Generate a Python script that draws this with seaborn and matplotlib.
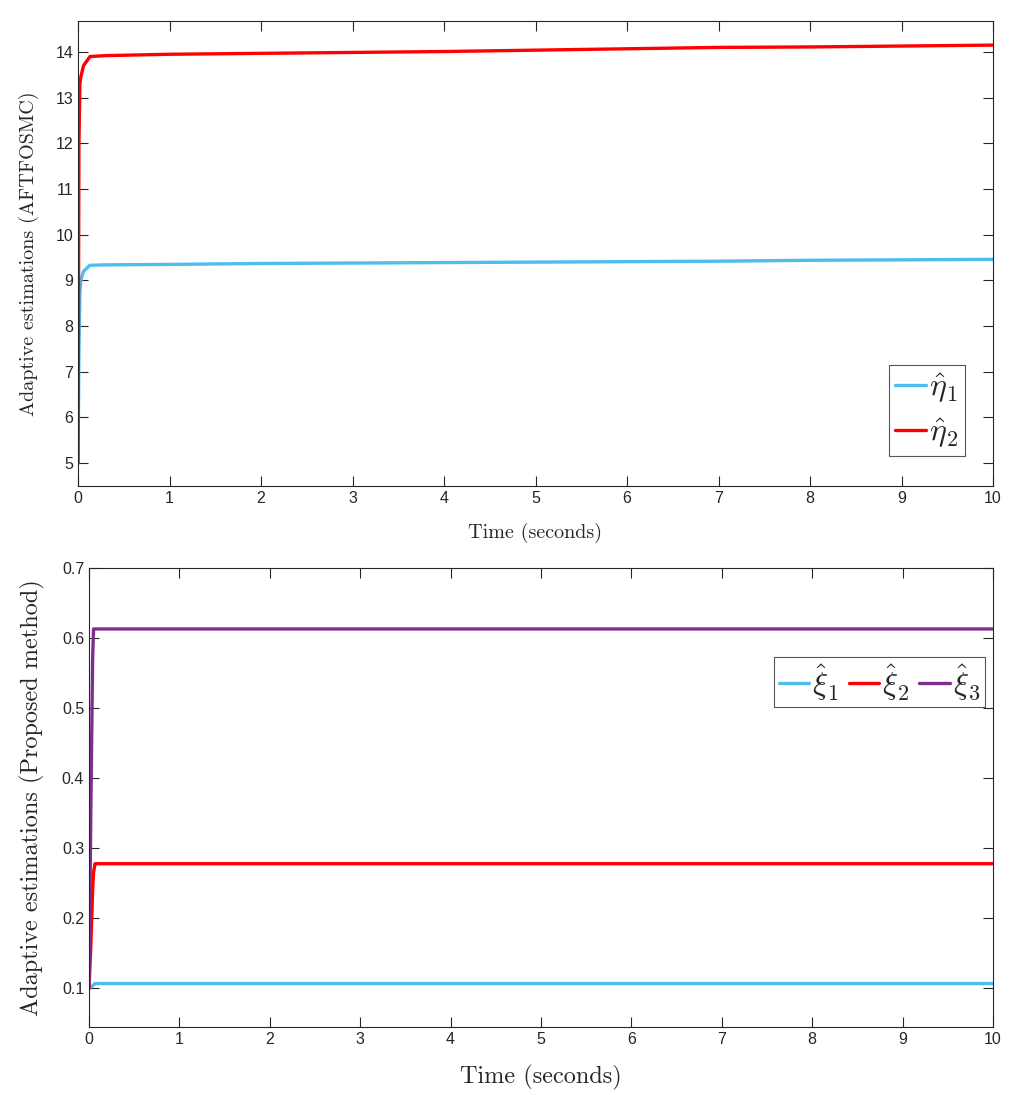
import numpy as np
import pandas as pd
import seaborn as sns
from matplotlib import pyplot as plt

# top panel: AFTFOSMC estimates
t_top = [0, 0.01, 0.02, 0.03, 0.06, 0.13, 0.3, 1, 2, 3, 4, 5, 6, 7, 8, 9, 10]
eta1 = [5, 7.5, 8.7, 9.0, 9.2, 9.33, 9.34, 9.35, 9.37, 9.38, 9.39, 9.40, 9.41, 9.42, 9.44, 9.45, 9.46]
eta2 = [5, 12.0, 13.3, 13.45, 13.7, 13.9, 13.92, 13.95, 13.97, 13.99, 14.01, 14.04, 14.07, 14.10, 14.11, 14.13, 14.15]

# bottom panel: proposed method estimates
t_bot = [0, 0.02, 0.04, 0.05, 0.066, 0.08, 10]
xi1 = [0.1, 0.102, 0.104, 0.105, 0.107, 0.107, 0.107]
xi2 = [0.1, 0.16, 0.24, 0.265, 0.278, 0.278, 0.278]
xi3 = [0.1, 0.35, 0.57, 0.613, 0.613, 0.613, 0.613]

c_blue = "#4DBEEE"
c_red = "#FF0000"
c_purple = "#7E2F8E"

sns.set_style("ticks")
plt.rcParams["font.family"] = ["Liberation Sans", "DejaVu Sans"]
plt.rcParams["mathtext.fontset"] = "cm"
plt.rcParams["xtick.direction"] = "in"
plt.rcParams["ytick.direction"] = "in"
plt.rcParams["xtick.top"] = True
plt.rcParams["ytick.right"] = True

fig = plt.figure(figsize=(10.16, 10.95), dpi=100)
ax1 = fig.add_axes([0.0768, 0.5562, 0.9006, 0.4247])
ax2 = fig.add_axes([0.0876, 0.0621, 0.8898, 0.4192])

lw = 2.4
sns.lineplot(x=t_top, y=eta1, ax=ax1, color=c_blue, lw=lw, label=r"$\hat{\eta}_1$")
sns.lineplot(x=t_top, y=eta2, ax=ax1, color=c_red, lw=lw, label=r"$\hat{\eta}_2$")

sns.lineplot(x=t_bot, y=xi1, ax=ax2, color=c_blue, lw=lw, label=r"$\hat{\xi}_1$")
sns.lineplot(x=t_bot, y=xi2, ax=ax2, color=c_red, lw=lw, label=r"$\hat{\xi}_2$")
sns.lineplot(x=t_bot, y=xi3, ax=ax2, color=c_purple, lw=lw, label=r"$\hat{\xi}_3$")

ax1.set_xlim(0, 10)
ax1.set_ylim(4.5, 14.68)
ax1.set_xticks(range(0, 11))
ax1.set_yticks(range(5, 15))
ax2.set_xlim(0, 10)
ax2.set_ylim(0.045, 0.7)
ax2.set_xticks(range(0, 11))
ax2.set_yticks([0.1, 0.2, 0.3, 0.4, 0.5, 0.6, 0.7])

ax1.set_xlabel("Time (seconds)", family="cmr10", fontsize=14.5, labelpad=12)
ax1.set_ylabel("Adaptive estimations (AFTFOSMC)", family="cmr10", fontsize=14.5, labelpad=12)
ax2.set_xlabel("Time (seconds)", family="cmr10", fontsize=17.5, labelpad=13)
ax2.set_ylabel("Adaptive estimations (Proposed method)", family="cmr10", fontsize=17.5, labelpad=12)

for ax in (ax1, ax2):
    for s in ax.spines.values():
        s.set_color("#262626")
        s.set_linewidth(0.8)
    ax.tick_params(which="both", length=7, width=0.8, color="#262626",
                   labelcolor="#262626", labelsize=11.5)

leg1 = ax1.legend(loc="upper left", bbox_to_anchor=(889 / 1016, 1 - 365 / 1095),
                  bbox_transform=fig.transFigure, fontsize=23, frameon=True,
                  fancybox=False, framealpha=1, edgecolor="#555555",
                  handlelength=0.95, handletextpad=0.1, borderpad=0.2,
                  labelspacing=0.35, borderaxespad=0)
leg1.get_frame().set_linewidth(0.8)

leg2 = ax2.legend(loc="upper left", bbox_to_anchor=(774 / 1016, 1 - 657 / 1095),
                  bbox_transform=fig.transFigure, fontsize=23, frameon=True,
                  fancybox=False, framealpha=1, edgecolor="#555555", ncol=3,
                  handlelength=0.95, handletextpad=0.1, borderpad=0.15,
                  columnspacing=0.3, borderaxespad=0)
leg2.get_frame().set_linewidth(0.8)

fig.savefig("out.png", dpi=100)
